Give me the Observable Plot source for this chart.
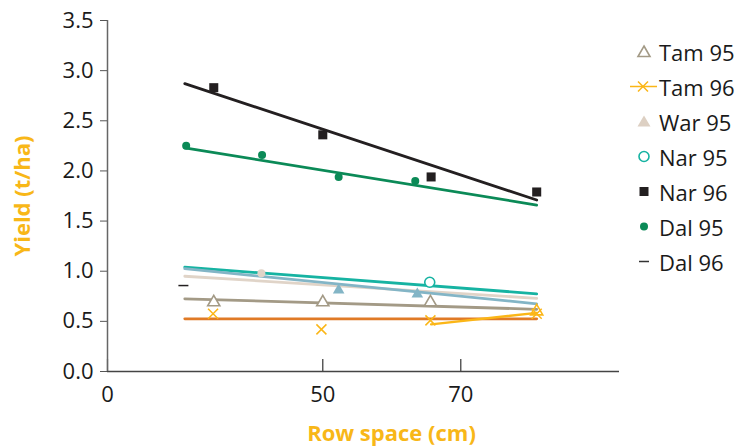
<!DOCTYPE html>
<html>
<head>
<meta charset="utf-8">
<script src="https://cdn.jsdelivr.net/npm/d3@7"></script>
<script src="https://cdn.jsdelivr.net/npm/@observablehq/plot@0.6"></script>
<style>
  body { margin: 0; background: #fff; font-family: "Open Sans", sans-serif; }
  #wrap { position: relative; width: 744px; height: 446px; overflow: hidden; }
  #legend { position: absolute; left: 628px; top: 34px; }
  .item { display: flex; align-items: center; height: 35px; font-size: 22px; color: #1a1a1a; }
  .item svg { flex: none; }
  .item span { margin-left: 1px; }
</style>
</head>
<body>
<div id="wrap"><div id="chart"></div><div id="legend"></div></div>
<script>
// ---- axes ----
const xDomain = [18.8, 93];
const yDomain = [0, 3.5];
const xTickValues = [18.8, 50, 70];
const xTickLabels = ["0", "50", "70"];
const yTickValues = [0, 0.5, 1, 1.5, 2, 2.5, 3, 3.5];
const xLabel = "Row space (cm)";
const yLabel = "Yield (t/ha)";

// ---- legend ----
const legendNames = ["Tam 95", "Tam 96", "War 95", "Nar 95", "Nar 96", "Dal 95", "Dal 96"];

// ---- points ----
const nar96X = [34.2, 50, 65.7, 81.0];
const nar96Y = [2.83, 2.36, 1.94, 1.79];
const dal95X = [30.2, 41.2, 52.3, 63.4];
const dal95Y = [2.25, 2.16, 1.94, 1.90];
const tam95X = [34.2, 50, 65.6];
const tam95Y = [0.69, 0.69, 0.69];
const tam96X = [34.1, 49.8, 65.6, 81.0];
const tam96Y = [0.575, 0.42, 0.51, 0.575];
const tam96TriX = [81.0];
const tam96TriY = [0.60];
const nar95X = [65.5];
const nar95Y = [0.89];
const war95X = [52.3, 63.7];
const war95Y = [0.81, 0.77];
const war95DotX = [41.1];
const war95DotY = [0.98];
const dal96X = [29.8];
const dal96Y = [0.857];
// Tam 96 connecting line
const tam96LineX = [65.7, 81.0];
const tam96LineY = [0.47, 0.585];

// ---- fitted lines ----
const fitX = [30, 81];
const fitNames = ["Tam 96 fit", "Tam 95 fit", "War 95 fit", "Nar 95 fit", "War 95 fit b", "Dal 95 fit", "Nar 96 fit"];
const fitStartY = [0.525, 0.725, 0.95, 1.04, 1.025, 2.23, 2.87];
const fitEndY = [0.525, 0.62, 0.73, 0.775, 0.675, 1.66, 1.71];

// ---- styles ----
const colors = {
  black: "#231f20", green: "#0b8a57", teal: "#16b3a2", blue: "#83b5c6",
  beige: "#e0d4c8", gray: "#a39a86", orange: "#e07a26", yellow: "#fbb617", label: "#f8b718"
};
const fitColors = {
  "Tam 96 fit": colors.orange, "Tam 95 fit": colors.gray, "War 95 fit": colors.beige,
  "Nar 95 fit": colors.teal, "War 95 fit b": colors.blue, "Dal 95 fit": colors.green, "Nar 96 fit": colors.black
};

const pts = (xs, ys) => xs.map((x, i) => ({x, y: ys[i]}));

const timesSymbol = {
  draw(ctx, size) {
    const r = Math.sqrt(size / Math.PI);
    ctx.moveTo(-r, -r); ctx.lineTo(r, r);
    ctx.moveTo(-r, r); ctx.lineTo(r, -r);
  }
};
const dashSymbol = {
  draw(ctx, size) {
    const r = Math.sqrt(size / Math.PI);
    ctx.moveTo(-r, 0); ctx.lineTo(r, 0);
  }
};

const fitMarks = fitNames.map((name, i) =>
  Plot.line(pts(fitX, [fitStartY[i], fitEndY[i]]), {x: "x", y: "y", stroke: fitColors[name], strokeWidth: 2.8})
);

const plotH = 446, mTop = 20, mBottom = 75;

const chart = Plot.plot({
  width: 744,
  height: plotH,
  marginLeft: 107,
  marginRight: 125,
  marginTop: mTop,
  marginBottom: mBottom,
  style: {fontFamily: "'Open Sans', sans-serif", fontSize: "22px", color: "#1a1a1a", background: "#fff"},
  x: {domain: xDomain},
  y: {domain: yDomain},
  marks: [
    Plot.axisY(yTickValues, {tickSize: 7, tickPadding: 7, tickFormat: d3.format(".1f"), label: null, stroke: "#555", fill: "#1a1a1a"}),
    Plot.axisX(xTickValues, {tickSize: 0, tickPadding: 15, tickFormat: d => xTickLabels[xTickValues.indexOf(d)], label: null, fill: "#1a1a1a"}),
    Plot.ruleX(xTickValues, {stroke: "#333", strokeWidth: 1.2, insetTop: plotH - mTop - mBottom - 12}),
    Plot.ruleY([yDomain[0]], {stroke: "#444", strokeWidth: 1.5}),
    Plot.ruleX([xDomain[0]], {stroke: "#666", strokeWidth: 1.5}),
    ...fitMarks,
    Plot.line(pts(tam96LineX, tam96LineY), {x: "x", y: "y", stroke: colors.yellow, strokeWidth: 2.4}),
    Plot.dot(pts(war95DotX, war95DotY), {x: "x", y: "y", r: 4, fill: colors.beige}),
    Plot.dot(pts(nar96X, nar96Y), {x: "x", y: "y", symbol: "square", r: 5.1, fill: colors.black}),
    Plot.dot(pts(dal95X, dal95Y), {x: "x", y: "y", symbol: "circle", r: 4, fill: colors.green}),
    Plot.dot(pts(tam95X, tam95Y), {x: "x", y: "y", symbol: "triangle", r: 4.5, fill: "white", stroke: colors.gray, strokeWidth: 1.6}),
    Plot.dot(pts(tam96TriX, tam96TriY), {x: "x", y: "y", symbol: "triangle", r: 4.5, fill: "none", stroke: colors.yellow, strokeWidth: 1.6}),
    Plot.dot(pts(war95X, war95Y), {x: "x", y: "y", symbol: "triangle", r: 4.3, fill: colors.blue}),
    Plot.dot(pts(nar95X, nar95Y), {x: "x", y: "y", symbol: "circle", r: 5, fill: "white", stroke: colors.teal, strokeWidth: 1.6}),
    Plot.dot(pts(tam96X, tam96Y), {x: "x", y: "y", symbol: timesSymbol, r: 5, stroke: colors.yellow, strokeWidth: 1.5}),
    Plot.dot(pts(dal96X, dal96Y), {x: "x", y: "y", symbol: dashSymbol, r: 5, stroke: colors.black, strokeWidth: 1.5}),
    Plot.text([yLabel], {text: d => d, frameAnchor: "left", rotate: -90, dx: -85, textAnchor: "middle", lineAnchor: "middle", fill: colors.label, fontWeight: "bold", fontSize: 22}),
    Plot.text([xLabel], {text: d => d, frameAnchor: "bottom", dx: 28, dy: 62, textAnchor: "middle", lineAnchor: "middle", fill: colors.label, fontWeight: "bold", fontSize: 22})
  ]
});
document.getElementById("chart").appendChild(chart);

// ---- legend (HTML) ----
const legendSymbols = {
  "Tam 95": `<polygon points="16,12 22,22.5 10,22.5" fill="white" stroke="${colors.gray}" stroke-width="1.6"/>`,
  "Tam 96": `<line x1="2" y1="17.5" x2="29" y2="17.5" stroke="${colors.yellow}" stroke-width="1.5"/><path d="M10,12.5L20,22.5M10,22.5L20,12.5" stroke="${colors.yellow}" stroke-width="1.5"/>`,
  "War 95": `<polygon points="16,11.5 22.5,22.5 9.5,22.5" fill="#ddd0c3"/>`,
  "Nar 95": `<circle cx="16" cy="17.5" r="5" fill="white" stroke="${colors.teal}" stroke-width="1.6"/>`,
  "Nar 96": `<rect x="11.5" y="13" width="9" height="9" fill="${colors.black}"/>`,
  "Dal 95": `<circle cx="16" cy="17.5" r="4" fill="${colors.green}"/>`,
  "Dal 96": `<line x1="11" y1="17.5" x2="21" y2="17.5" stroke="#333" stroke-width="1.5"/>`
};
const legend = document.getElementById("legend");
legendNames.forEach(name => {
  const div = document.createElement("div");
  div.className = "item";
  div.innerHTML = `<svg width="30" height="35">${legendSymbols[name]}</svg><span>${name}</span>`;
  legend.appendChild(div);
});
</script>
</body>
</html>
